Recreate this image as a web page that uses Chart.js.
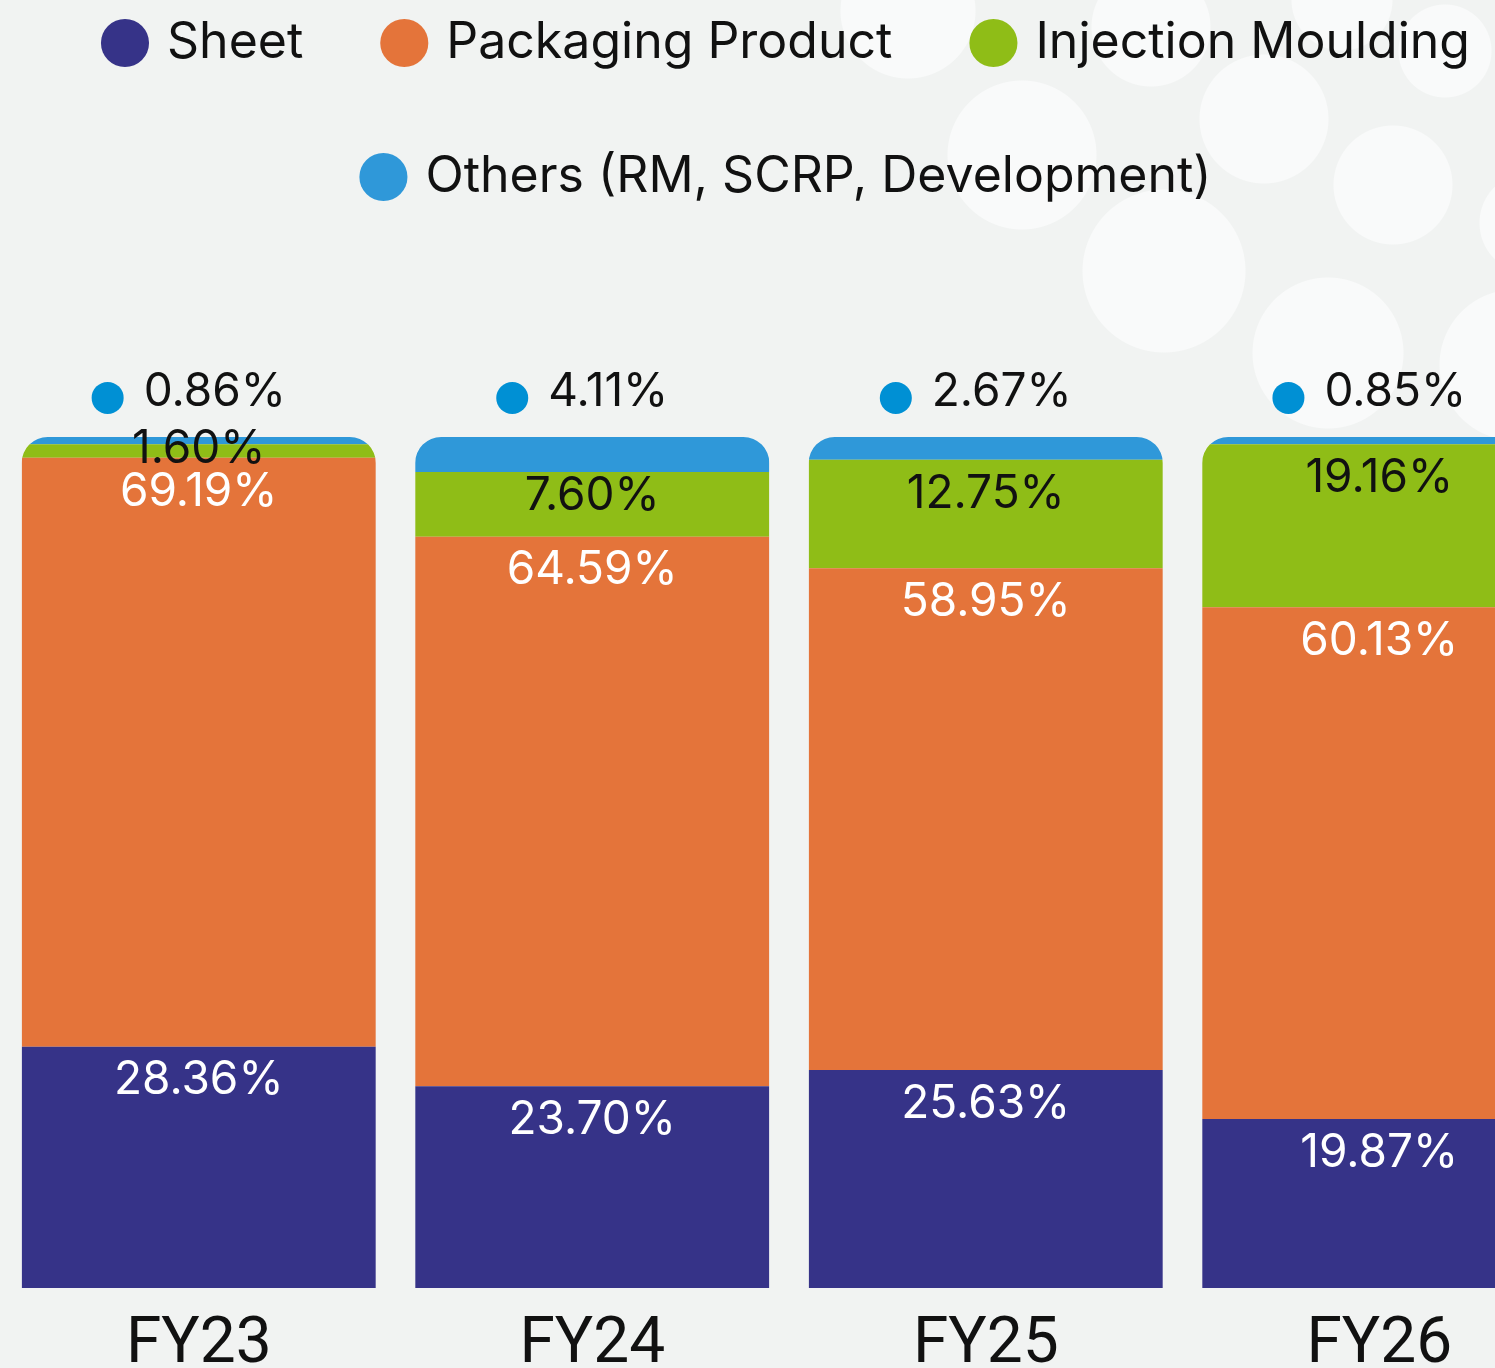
<!DOCTYPE html>
<html>
<head>
<meta charset="utf-8">
<script src="https://cdn.jsdelivr.net/npm/chart.js@4.4.1/dist/chart.umd.min.js"></script>
<style>
  html, body {
    margin: 0;
    width: 1495px;
    height: 1368px;
    overflow: hidden;
  }
  body {
    position: relative;
    background-color: #f1f3f2;
    background-image:
      radial-gradient(circle at 908px 11px, #f9fafa 67px, transparent 68px),
      radial-gradient(circle at 1151px 27px, #f9fafa 59px, transparent 60px),
      radial-gradient(circle at 1342px 0px, #f9fafa 50px, transparent 51px),
      radial-gradient(circle at 1445px 51px, #f9fafa 46px, transparent 47px),
      radial-gradient(circle at 1022px 155px, #f9fafa 74px, transparent 75px),
      radial-gradient(circle at 1264px 119px, #f9fafa 64px, transparent 65px),
      radial-gradient(circle at 1393px 185px, #f9fafa 59px, transparent 60px),
      radial-gradient(circle at 1164px 271px, #f9fafa 81px, transparent 82px),
      radial-gradient(circle at 1328px 353px, #f9fafa 75px, transparent 76px),
      radial-gradient(circle at 1530px 223px, #f9fafa 50px, transparent 51px),
      radial-gradient(circle at 1515px 365px, #f9fafa 75px, transparent 76px);
    background-repeat: no-repeat;
  }
  .wrap {
    position: absolute;
    left: 2px;
    top: -66px;
    width: 1574px;
    height: 1462px;
  }
</style>
</head>
<body>
<div class="wrap"><canvas id="mix"></canvas></div>
<script>
// product mix share, % of revenue
const categories = ['FY23', 'FY24', 'FY25', 'FY26'];
const sheet = [28.36, 23.70, 25.63, 19.87];
const packaging = [69.19, 64.59, 58.95, 60.13];
const injection = [1.60, 7.60, 12.75, 19.16];
const others = [0.86, 4.11, 2.67, 0.85];

const labelFont = '46px Inter, "Noto Sans", sans-serif';
const legendSpace = 225;

// push the plot area down so there is room above the bars
const legendSpacer = {
  id: 'legendSpacer',
  beforeInit(chart) {
    const fit = chart.legend.fit;
    chart.legend.fit = function () {
      fit.call(this);
      this.height += legendSpace;
    };
  }
};

// round the top of every whole stack, not just the top segment
const stackClip = {
  id: 'stackClip',
  beforeDatasetsDraw(chart) {
    const ctx = chart.ctx;
    const n = chart.data.datasets.length;
    ctx.save();
    ctx.beginPath();
    chart.getDatasetMeta(0).data.forEach((bar, i) => {
      const top = chart.getDatasetMeta(n - 1).data[i].y;
      const left = bar.x - bar.width / 2;
      ctx.roundRect(left, top, bar.width, bar.base - top, [26, 26, 0, 0]);
    });
    ctx.clip();
  },
  afterDatasetsDraw(chart) {
    const ctx = chart.ctx;
    ctx.restore();

    ctx.save();
    ctx.font = labelFont;
    ctx.textAlign = 'center';
    ctx.textBaseline = 'middle';
    chart.data.datasets.forEach((ds, d) => {
      const meta = chart.getDatasetMeta(d);
      meta.data.forEach((bar, i) => {
        const txt = ds.data[i].toFixed(2) + '%';
        if (d === 3) {
          // dot + value above the bar
          const w = ctx.measureText(txt).width;
          const total = 32 + 20 + w;
          const start = bar.x - 10 - total / 2;
          const y = bar.y - 45;
          ctx.fillStyle = '#0090d4';
          ctx.beginPath();
          ctx.arc(start + 16, y + 6, 16, 0, Math.PI * 2);
          ctx.fill();
          ctx.fillStyle = '#111';
          ctx.textAlign = 'left';
          ctx.fillText(txt, start + 52, y);
          ctx.textAlign = 'center';
          return;
        }
        const h = bar.base - bar.y;
        ctx.fillStyle = ds.labelColor;
        ctx.fillText(txt, bar.x, bar.y + Math.min(34, h * 0.37));
      });
    });
    ctx.restore();
  }
};

new Chart(document.getElementById('mix'), {
  type: 'bar',
  data: {
    labels: categories,
    datasets: [
      { label: 'Sheet', data: sheet, backgroundColor: '#363388', labelColor: '#fff' },
      { label: 'Packaging Product', data: packaging, backgroundColor: '#e4743a', labelColor: '#fff' },
      { label: 'Injection Moulding', data: injection, backgroundColor: '#8fbd17', labelColor: '#111' },
      { label: 'Others (RM, SCRP, Development)', data: others, backgroundColor: '#2f98d9', labelColor: '#111' }
    ]
  },
  options: {
    responsive: true,
    maintainAspectRatio: false,
    animation: false,
    layout: { padding: 0 },
    datasets: {
      bar: { barPercentage: 1, categoryPercentage: 0.9, borderWidth: 0 }
    },
    plugins: {
      tooltip: { enabled: false },
      legend: {
        position: 'top',
        labels: {
          usePointStyle: true,
          pointStyle: 'circle',
          boxWidth: 34,
          boxHeight: 34,
          padding: 84,
          color: '#111',
          font: { family: 'Inter, "Noto Sans", sans-serif', size: 50 }
        }
      }
    },
    scales: {
      x: {
        stacked: true,
        grid: { display: false },
        border: { display: false },
        ticks: {
          color: '#111',
          padding: 18,
          font: { family: 'Roboto, sans-serif', size: 64, lineHeight: 1 }
        }
      },
      y: {
        stacked: true,
        display: false,
        min: 0,
        max: 100
      }
    }
  },
  plugins: [legendSpacer, stackClip]
});
</script>
</body>
</html>
